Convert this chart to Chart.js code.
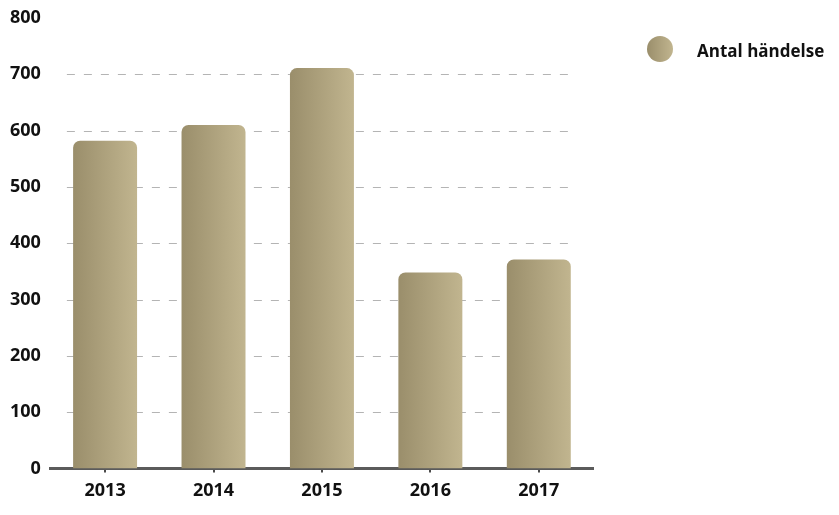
<!DOCTYPE html>
<html>
<head>
<meta charset="utf-8">
<script src="https://cdn.jsdelivr.net/npm/chart.js@4.4.1/dist/chart.umd.min.js"></script>
<style>
  html, body { margin: 0; padding: 0; background: #fff; }
  #wrap { width: 839px; height: 515px; position: relative; }
</style>
</head>
<body>
<div id="wrap"><canvas id="c"></canvas></div>
<script>
// ── DATA ──────────────────────────────────────────────
const years   = ['2013', '2014', '2015', '2016', '2017'];
const counts  = [582, 610, 711, 348, 371];
const yTicks  = [0, 100, 200, 300, 400, 500, 600, 700, 800];
const seriesName = 'Antal händelse';

// ── STYLE ─────────────────────────────────────────────
const GOLD_DARK  = '#9a8e6b';
const GOLD_LIGHT = '#c1b58f';
const FONT = '"Open Sans", "Liberation Sans", sans-serif';
const BAR_PCT = 0.59;

function barGradient(ctx) {
  const chart = ctx.chart;
  const xs = chart.scales.x;
  if (!xs || !chart.chartArea) return GOLD_DARK;
  const cx = xs.getPixelForValue(ctx.dataIndex);
  const half = (xs.width / years.length) * BAR_PCT / 2;
  const g = chart.ctx.createLinearGradient(cx - half, 0, cx + half, 0);
  g.addColorStop(0, GOLD_DARK);
  g.addColorStop(1, GOLD_LIGHT);
  return g;
}

// dashed grid, shorter than the chart area, behind the bars
const dashedGrid = {
  id: 'dashedGrid',
  beforeDatasetsDraw(chart) {
    const { ctx, chartArea: a, scales: { y } } = chart;
    ctx.save();
    ctx.strokeStyle = '#b4b4b4';
    ctx.lineWidth = 1;
    ctx.setLineDash([8, 9]);
    yTicks.forEach(v => {
      if (v === 0 || v === 800) return;
      const py = Math.round(y.getPixelForValue(v)) + 0.5;
      ctx.beginPath();
      ctx.moveTo(a.left + 16, py);
      ctx.lineTo(a.right - 22, py);
      ctx.stroke();
    });
    ctx.restore();
  }
};

// legend on the right: gradient dot + label
const sideLegend = {
  id: 'sideLegend',
  afterDraw(chart) {
    const { ctx } = chart;
    const cx = 660, cy = 49, r = 13;
    ctx.save();
    const g = ctx.createLinearGradient(cx - r, 0, cx + r, 0);
    g.addColorStop(0, GOLD_DARK);
    g.addColorStop(1, GOLD_LIGHT);
    ctx.fillStyle = g;
    ctx.beginPath();
    ctx.arc(cx, cy, r, 0, Math.PI * 2);
    ctx.fill();
    ctx.fillStyle = '#111';
    ctx.font = 'bold 17px ' + FONT;
    ctx.textBaseline = 'middle';
    ctx.fillText(chart.data.datasets[0].label, 697, 52);
    ctx.restore();
  }
};

new Chart(document.getElementById('c'), {
  type: 'bar',
  data: {
    labels: years,
    datasets: [{
      label: seriesName,
      data: counts,
      backgroundColor: barGradient,
      borderRadius: { topLeft: 7, topRight: 7 },
      borderSkipped: 'bottom',
      categoryPercentage: 1,
      barPercentage: BAR_PCT,
    }],
  },
  options: {
    responsive: true, maintainAspectRatio: false,
    animation: false,
    layout: { padding: { left: 8, right: 246, top: 18, bottom: 5 } },
    plugins: { legend: { display: false }, tooltip: { enabled: false } },
    scales: {
      x: {
        grid: { display: true, drawOnChartArea: false, offset: false, color: '#4a4a4a', lineWidth: 2, tickLength: 4 },
        border: { display: true, color: '#5b5b5b', width: 3 },
        ticks: { color: '#111', font: { family: FONT, size: 18, weight: 'bold' }, padding: 8 },
      },
      y: {
        min: 0, max: 800,
        grid: { display: false },
        border: { display: false },
        afterBuildTicks: s => { s.ticks = yTicks.map(v => ({ value: v })); },
        ticks: { color: '#111', font: { family: FONT, size: 18, weight: 'bold' }, padding: 2 },
      },
    },
  },
  plugins: [dashedGrid, sideLegend],
});
</script>
</body>
</html>
